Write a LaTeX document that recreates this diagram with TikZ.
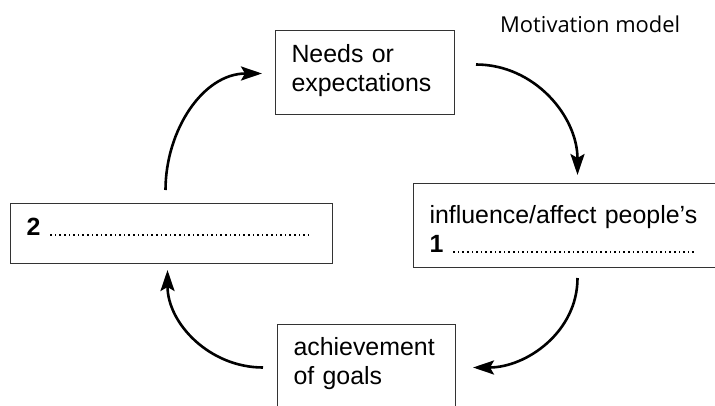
\documentclass[tikz,border=0pt]{standalone}
\usepackage{fontspec}
\setmainfont{Liberation Sans}
\newfontfamily\titlefont{Open Sans}
\usetikzlibrary{arrows.meta}
% a row of dots to write the answer on
\newcommand\answerdots[1]{\hbox to #1{\leaders\hbox to 4.6bp{\hss\rule{1.6bp}{1.6bp}\hss}\hfill}}
\tikzset{
  stage/.style={draw=black!80,line width=1bp,anchor=north west,
    inner xsep=16bp,inner ysep=0bp,align=left,
    font=\fontsize{25}{29.5}\selectfont},
  cycle arrow/.style={draw,line width=2.6bp,
    -{Stealth[length=21bp,width=14bp,inset=4bp]}},
}

\begin{document}
\begin{tikzpicture}[x=1bp,y=1bp]
\useasboundingbox (0,0) rectangle (715,405);
\clip (0,0) rectangle (715,405);
\node[anchor=base west,inner sep=0pt,font=\titlefont\fontsize{22}{26}\selectfont] (title) at (500,373) {Motivation model};
\node[stage,text width=147bp,text height=32bp,text depth=52bp] (needs) at (275,375) {Needs or\\expectations};
\node[stage,text width=296bp,text height=40bp,text depth=44bp] (influence) at (413,222) {influence/affect people’s\\\textbf{1} \answerdots{247bp}};
\node[stage,text width=146bp,text height=31bp,text depth=55bp] (achievement) at (277,81) {achievement\\of goals};
\node[stage,text width=290bp,text height=32bp,text depth=28bp] (blank) at (10,202) {\textbf{2} \answerdots{263bp}};
% the cycle, clockwise
\draw[cycle arrow] ([xshift=21bp,yshift=8bp]needs.east) to[out=0,in=90] ([yshift=8bp]influence.north);
\draw[cycle arrow] ([yshift=-10bp]influence.south) to[out=-90,in=0] ([xshift=17bp]achievement.east);
\draw[cycle arrow] ([xshift=-14bp]achievement.west) to[out=180,in=-90] ([xshift=-4bp,yshift=-6bp]blank.south);
\draw[cycle arrow] ([xshift=-6bp,yshift=13bp]blank.north) to[out=90,in=180] ([xshift=-13bp,yshift=-1bp]needs.west);
\end{tikzpicture}
\end{document}
